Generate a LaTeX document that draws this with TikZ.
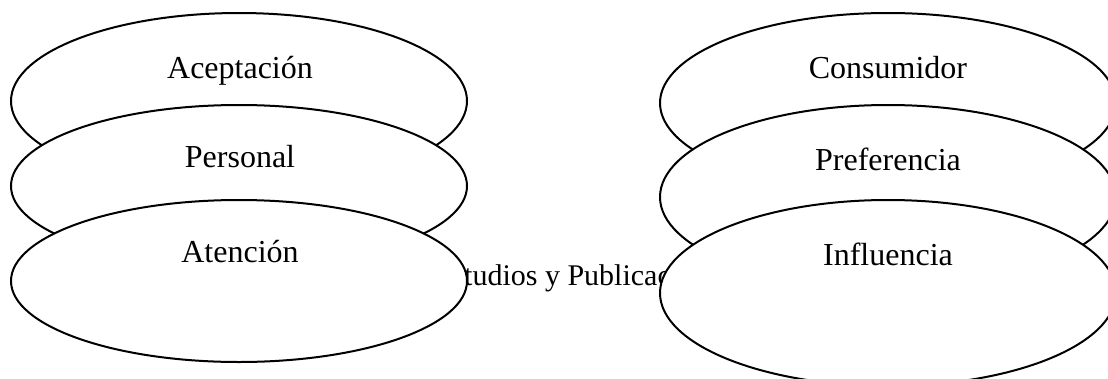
\documentclass[tikz,border=0pt]{standalone}
\usepackage{fontspec}
\setmainfont{Liberation Serif}
\usetikzlibrary{shapes.geometric}
\begin{document}
\begin{tikzpicture}[x=1pt,y=-1pt,
  oval/.style={ellipse,draw=black,fill=white,line width=2pt,inner sep=0pt,minimum width=456pt},
  lab/.style={anchor=base,inner sep=0pt,font=\fontsize{32}{38}\selectfont},
  note/.style={anchor=base west,inner sep=0pt,font=\fontsize{30}{36}\selectfont}]
\useasboundingbox (0,0) rectangle (1108,378);
\clip (0,0) rectangle (1108,378);
% left column
\node[oval,minimum height=176pt] (e1) at (239,101) {};
\node[lab] (t1) at (240,78) {Aceptación};
\node[oval,minimum height=162pt] (e2) at (239,186) {};
\node[lab] (t2) at (240,167) {Personal};
\node[note] (t7) at (464,285) {tudios y Publicac};
\node[oval,minimum height=162pt] (e3) at (239,281) {};
\node[lab] (t3) at (240,262) {Atención};
% right column
\node[oval,minimum height=180pt] (e4) at (888,103) {};
\node[lab] (t4) at (888,78) {Consumidor};
\node[oval,minimum height=184pt] (e5) at (888,197) {};
\node[lab] (t5) at (888,170) {Preferencia};
\node[oval,minimum height=186pt] (e6) at (888,293) {};
\node[lab] (t6) at (888,265) {Influencia};
\end{tikzpicture}
\end{document}
